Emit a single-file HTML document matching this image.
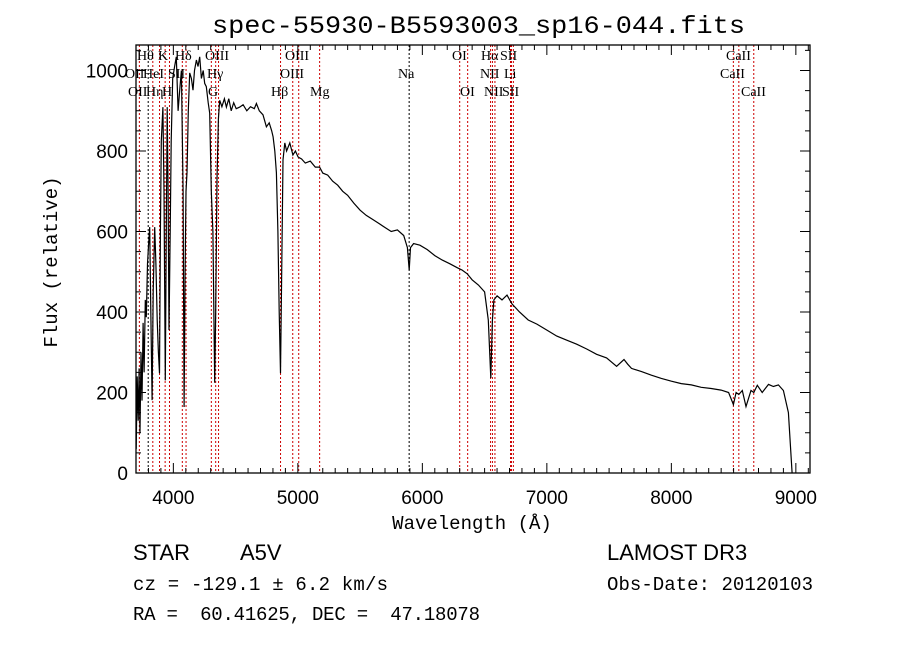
<!DOCTYPE html>
<html><head><meta charset="utf-8"><style>
body{margin:0;background:#fff;}
svg{display:block;}
text{font-family:"Liberation Sans",sans-serif;fill:#000;}
.ll{font-family:"Liberation Serif",serif;font-size:14px;}
.mono{font-family:"Liberation Mono",monospace;}
</style></head><body>
<svg id="chart" width="900" height="649" viewBox="0 0 900 649" xmlns="http://www.w3.org/2000/svg">
<rect width="900" height="649" fill="#fff"/>
<text x="212" y="33" font-size="25" class="mono" textLength="533" lengthAdjust="spacingAndGlyphs">spec-55930-B5593003_sp16-044.fits</text>
<g id="lines"></g>
<g id="ticks"></g>
<path id="spec" fill="none" stroke="#000" stroke-width="1.2"/>
<rect x="136" y="45" width="674" height="428" fill="none" stroke="#000" stroke-width="1.3"/>
<text transform="translate(57,262) rotate(-90)" font-size="19" text-anchor="middle" class="mono">Flux (relative)</text>
<text x="472" y="529" font-size="19" text-anchor="middle" class="mono">Wavelength (Å)</text>
<text x="133" y="560" font-size="22" font-family="Liberation Serif">STAR</text>
<text x="240" y="560" font-size="22" font-family="Liberation Serif">A5V</text>
<text x="607" y="560" font-size="22" font-family="Liberation Serif">LAMOST DR3</text>
<text x="133" y="590" font-size="19" class="mono" textLength="255">cz = -129.1 ± 6.2 km/s</text>
<text x="607" y="590" font-size="19" class="mono" textLength="206">Obs-Date: 20120103</text>
<text x="133" y="620" font-size="19" class="mono" xml:space="preserve" textLength="347">RA =  60.41625, DEC =  47.18078</text>
</svg>
<script>
const waves=[3702,3710,3718,3725,3732,3740,3748,3757,3765,3775,3783,3792,3800,3810,3818,3829,3838,3850,3860,3870,3880,3889,3896,3903,3916,3925,3935,3943,3951,3958,3965,3975,3983,3995,4010,4024,4038,4051,4065,4078,4086,4094,4102,4110,4120,4131,4145,4158,4170,4185,4198,4212,4225,4240,4252,4265,4280,4292,4305,4318,4332,4340,4351,4362,4372,4390,4410,4426,4445,4465,4485,4505,4533,4560,4590,4620,4650,4667,4690,4720,4747,4770,4790,4801,4815,4828,4840,4850,4861,4870,4881,4895,4910,4935,4960,4980,5002,5030,5060,5100,5140,5175,5200,5240,5280,5320,5360,5400,5450,5500,5550,5600,5650,5700,5750,5800,5850,5880,5894,5905,5930,5980,6040,6100,6160,6220,6280,6320,6360,6400,6450,6500,6530,6550,6563,6575,6600,6640,6680,6720,6780,6850,6920,7000,7080,7160,7240,7320,7400,7480,7560,7620,7650,7680,7760,7840,7920,8000,8080,8160,8240,8320,8400,8460,8498,8520,8542,8570,8600,8640,8662,8690,8730,8780,8820,8860,8900,8940,8970,8990,9000,9010];
const fluxes=[60,240,130,260,100,300,180,373,250,430,387,520,560,611,420,181,450,611,520,380,300,248,600,825,909,700,230,600,909,700,355,600,825,980,1010,1034,900,951,1000,700,164,500,700,746,900,994,980,951,1000,1026,1010,1034,980,1000,968,960,920,894,700,600,224,400,728,880,926,910,930,909,930,900,920,905,909,915,900,910,905,918,900,890,860,870,850,835,800,746,600,400,248,500,778,820,800,820,790,800,785,780,770,775,760,760,745,740,725,715,700,690,670,653,640,630,620,610,600,604,590,560,504,560,570,566,555,540,529,520,510,504,495,480,467,450,380,236,380,430,440,430,442,420,400,380,370,355,340,330,320,308,295,286,265,282,270,260,252,243,235,228,222,219,213,210,206,200,170,200,195,205,165,205,200,218,200,220,215,219,205,150,0];
const lineWaves=[3727,3798,3835,3889,3934,3969,4072,4102,4305,4340,4363,4861,4959,5007,5175,5894,6300,6364,6548,6563,6583,6708,6716,6731,8498,8542,8662];
const lineColors=["#c00","#000","#c00","#c00","#c00","#c00","#c00","#c00","#c00","#c00","#c00","#c00","#c00","#c00","#c00","#000","#c00","#c00","#c00","#c00","#c00","#c00","#c00","#c00","#c00","#c00","#c00"];
const lineLabels=[["Hθ",137,60],["K",158,60],["Hδ",175,60],["OIII",205,60],["OIII",285,60],["OI",452,60],["Hα",481,60],["SII",500,60],["CaII",726,60],
["OII",125,78],["HeI",143,78],["SII",168,78],["Hγ",207,78],["OIII",280,78],["Na",398,78],["NII",480,78],["Li",504,78],["CaII",720,78],
["OII",128,96],["Hη",146,96],["H",162,96],["G",208,96],["Hβ",271,96],["Mg",310,96],["OI",460,96],["NII",484,96],["SII",502,96],["CaII",741,96]];
const xTicks=[4000,5000,6000,7000,8000,9000];
const yTicks=[0,200,400,600,800,1000];
const X=w=>136+(w-3700)*0.1245;
const Y=f=>473-f*0.4025;
const NS="http://www.w3.org/2000/svg";
const lg=document.getElementById('lines'), tg=document.getElementById('ticks');
function mk(tag,attrs,parent){const e=document.createElementNS(NS,tag);for(const k in attrs)e.setAttribute(k,attrs[k]);parent.appendChild(e);return e;}
lineWaves.forEach((w,i)=>{
 const l=mk('line',{x1:X(w),x2:X(w),y1:45,y2:473,stroke:lineColors[i],'stroke-width':1,'stroke-dasharray':'2,2'},lg);
 
 
});
lineLabels.forEach(d=>{
 const t=mk('text',{x:d[1],y:d[2],class:'ll'},lg);t.textContent=d[0];
 
 
});
for(let w=3700;w<=9100;w+=100){
 const maj=w%1000===0;const len=maj?10:5;
 mk('line',{x1:X(w),x2:X(w),y1:473,y2:473-len,stroke:'#000'},tg);
 mk('line',{x1:X(w),x2:X(w),y1:45,y2:45+len,stroke:'#000'},tg);
}
for(let f=0;f<=1050;f+=50){
 const maj=f%200===0;const len=maj?10:5;
 mk('line',{x1:136,x2:136+len,y1:Y(f),y2:Y(f),stroke:'#000'},tg);
 mk('line',{x1:810,x2:810-len,y1:Y(f),y2:Y(f),stroke:'#000'},tg);
}
xTicks.forEach(v=>{
 const t=mk('text',{x:X(v),y:504,'font-size':19,'text-anchor':'middle'},tg);t.textContent=v;
 
 
});
yTicks.forEach(v=>{
 const t=mk('text',{x:128,y:Y(v)+7,'font-size':19,'text-anchor':'end'},tg);t.textContent=v;
 
 
});
document.getElementById('spec').setAttribute('d',waves.map((w,i)=>(i?'L':'M')+X(w).toFixed(1)+','+Y(fluxes[i]).toFixed(1)).join(''));
</script>
</body></html>
